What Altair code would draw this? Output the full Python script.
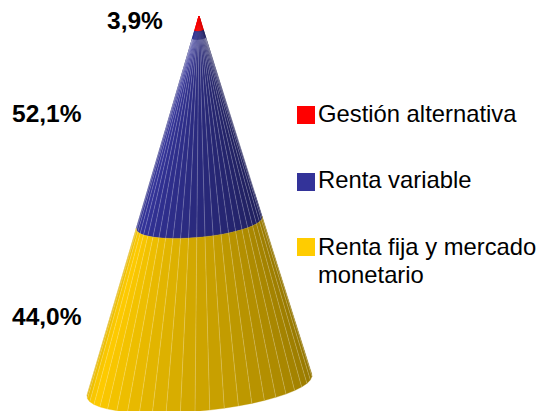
import math
import altair as alt
import pandas as pd

categories = ["Gestión alternativa", "Renta variable", "Renta fija y mercado\nmonetario"]
shares = [3.9, 52.1, 44.0]
share_labels = ["3,9%", "52,1%", "44,0%"]
colors = ["#ff0000", "#333399", "#ffcc00"]

W, H = 528, 403
FONT = "Liberation Sans"

# cone projection, in plot pixels (page margin already removed)
apex = (191.0, 8.0)
centre = (191.5, 378.0)
major = (112.5, -11.0)
minor = (2.4, 24.9)
start_deg, end_deg, step_deg = -4.0, 184.0, 7.5


def project(s, deg):
    t = math.radians(deg)
    ex = centre[0] + major[0] * math.cos(t) + minor[0] * math.sin(t)
    ey = centre[1] + major[1] * math.cos(t) + minor[1] * math.sin(t)
    return apex[0] + s * (ex - apex[0]), apex[1] + s * (ey - apex[1])


def shade(deg):
    mid = deg + step_deg / 2
    if mid > 160:
        return 1.0 - (mid - 160) / 24 * 0.12
    return 0.57 + 0.43 * (max(mid, 0) / 160) ** 1.05


def tint(hex_colour, f):
    r, g, b = (int(hex_colour[i:i + 2], 16) for i in (1, 3, 5))
    return "#%02x%02x%02x" % (round(r * f), round(g * f), round(b * f))


angles = []
a = start_deg
while a < end_deg:
    angles.append(a)
    a += step_deg

facets, seams = [], []
cum = 0.0
for k, share in enumerate(shares):
    s0, s1 = cum / 100, (cum + share) / 100
    cum += share
    for i, d0 in enumerate(angles):
        d1 = min(d0 + step_deg, end_deg)
        f = shade(d0)
        c = tint(colors[k], 0.6 + 0.4 * f if k == 0 else f)
        corners = [(s0, d0), (s1, d0), (s1, d1), (s0, d1), (s0, d0)]
        for o, (s, d) in enumerate(corners):
            x, y = project(s, d)
            facets.append(dict(f=f"{k}-{i}", o=o, x=x, y=y, c=c))
for i, d in enumerate(angles[1:]):
    for o, s in enumerate((0.06, 1.0)):
        x, y = project(s, d)
        seams.append(dict(f=i, o=o, x=x, y=y))

xs = alt.Scale(domain=[0, W], range=[0, W])
ys = alt.Scale(domain=[0, H], range=[0, H])
X = alt.X("x:Q", scale=xs, axis=None)
Y = alt.Y("y:Q", scale=ys, axis=None)

cone = alt.Chart(pd.DataFrame(facets)).mark_line(strokeWidth=0.3, interpolate="linear").encode(
    x=X, y=Y, detail="f:N", order="o:Q",
    fill=alt.Fill("c:N", scale=None),
    stroke=alt.Stroke("c:N", scale=None),
)
seam = alt.Chart(pd.DataFrame(seams)).mark_line(
    stroke="#ffffff", strokeWidth=0.6, opacity=0.35
).encode(x=X, y=Y, detail="f:N", order="o:Q")

value_df = pd.DataFrame({
    "t": share_labels,
    "x": [99, 4, 4],
    "y": [14, 107, 310],
})
value_text = alt.Chart(value_df).mark_text(
    font=FONT, fontWeight="bold", fontSize=24.5, align="left", baseline="middle", color="#000000"
).encode(x=X, y=Y, text="t:N")

legend_df = pd.DataFrame({
    "cat": categories,
    "c": colors,
    "x": [298, 298, 298],
    "y": [107, 174, 239],
    "tx": [310, 310, 310],
    "ty": [107, 173, 240],
})
swatch = alt.Chart(legend_df).mark_square(size=324, opacity=1, filled=True).encode(
    x=X, y=Y, fill=alt.Fill("c:N", scale=None)
)
legend_text = alt.Chart(legend_df).mark_text(
    font=FONT, fontSize=23.8, align="left", baseline="middle", color="#000000",
    lineBreak="\n", lineHeight=28
).encode(x=alt.X("tx:Q", scale=xs, axis=None), y=alt.Y("ty:Q", scale=ys, axis=None), text="cat:N")

chart = alt.layer(cone, seam, value_text, swatch, legend_text).properties(
    width=W, height=H, padding=0, autosize=alt.AutoSizeParams(type="none"), background="#ffffff"
).configure_view(stroke=None)

chart.save("out.html", embed_options={"renderer": "svg", "actions": False})
